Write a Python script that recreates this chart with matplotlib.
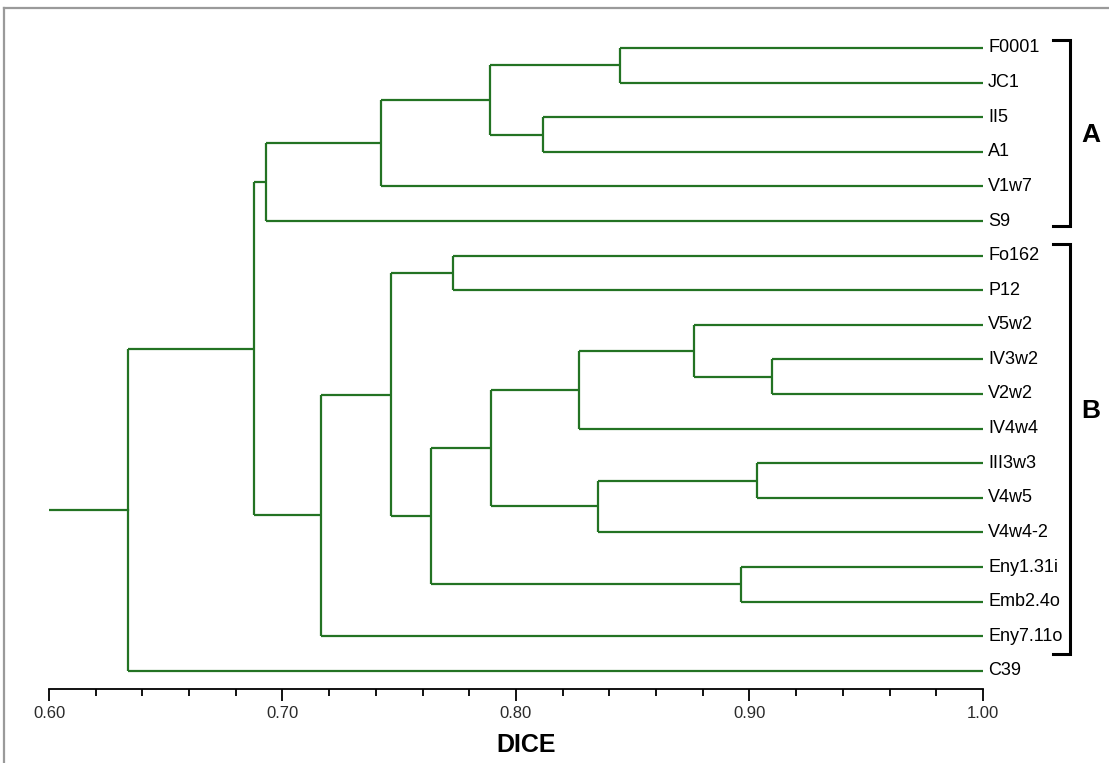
import matplotlib
matplotlib.use("Agg")
from matplotlib import pyplot as plt
from matplotlib.lines import Line2D
import numpy as np

plt.rcParams["font.family"] = ["Liberation Sans", "DejaVu Sans"]

# leaf order, top to bottom
leaves = ["F0001", "JC1", "II5", "A1", "V1w7", "S9", "Fo162", "P12", "V5w2",
          "IV3w2", "V2w2", "IV4w4", "III3w3", "V4w5", "V4w4-2", "Eny1.31i",
          "Emb2.4o", "Eny7.11o", "C39"]

# merges like a linkage table: node ids 0..18 are leaves, new nodes start at 19
merge_a = [0, 2, 19, 21, 22, 6, 9, 8, 26, 12, 28, 27, 15, 30, 24, 33, 23, 35]
merge_b = [1, 3, 20, 4, 5, 7, 10, 25, 11, 13, 14, 29, 16, 31, 32, 17, 34, 18]
merge_h = [0.8445, 0.8117, 0.7890, 0.7421, 0.6931, 0.7730, 0.9095, 0.8764,
           0.8270, 0.9031, 0.8351, 0.7891, 0.8965, 0.7634, 0.7465, 0.7166,
           0.6876, 0.6337]

groups = ["A", "B"]
group_span = [(-0.23, 5.14), (5.66, 17.5)]
group_label_row = [2.5, 10.5]

x_ticks = [0.60, 0.70, 0.80, 0.90, 1.00]

W, H = 1109, 763
fig = plt.figure(figsize=(W / 100, H / 100), dpi=100)

# axes placed in pixels: 0.60 at x=49, 1.00 at x=983, axis line at y=689
px_l, px_r, px_t, px_b = 49, 983, 30, 689
row0, step = 48, 34.6
ax = fig.add_axes([px_l / W, (H - px_b) / H, (px_r - px_l) / W, (px_b - px_t) / H])
ax.set_xlim(0.60, 1.00)
ax.set_ylim((px_b - row0) / step, (px_t - row0) / step)

green = "#237323"
n = len(leaves)
node_x = {i: 1.0 for i in range(n)}
node_y = {i: float(i) for i in range(n)}
for k, (a, b, h) in enumerate(zip(merge_a, merge_b, merge_h)):
    nid = n + k
    ya, yb = node_y[a], node_y[b]
    ax.plot([h, h], [ya, yb], color=green, lw=1.6, solid_capstyle="butt")
    ax.plot([h, node_x[a]], [ya, ya], color=green, lw=1.6, solid_capstyle="butt")
    ax.plot([h, node_x[b]], [yb, yb], color=green, lw=1.6, solid_capstyle="butt")
    node_x[nid] = h
    node_y[nid] = (ya + yb) / 2

root = n + len(merge_h) - 1
ax.plot([0.60, node_x[root]], [node_y[root]] * 2, color=green, lw=1.6)

for i, name in enumerate(leaves):
    ax.text(1.0 + 0.0022, i, name, fontsize=13, va="center", ha="left",
            color="black", clip_on=False)

# group brackets
for g, (top, bot), lr in zip(groups, group_span, group_label_row):
    ax.plot([1.030, 1.0373, 1.0373, 1.030], [top, top, bot, bot], color="black",
            lw=2.2, clip_on=False, solid_joinstyle="miter")
    ax.text(1.0463, lr, g, fontsize=19, fontweight="heavy", ha="center",
            va="center", clip_on=False)

for s in ["top", "right", "left"]:
    ax.spines[s].set_visible(False)
ax.spines["bottom"].set_linewidth(1.3)
ax.set_yticks([])
ax.set_xticks(x_ticks)
ax.set_xticklabels([f"{t:.2f}" for t in x_ticks])
ax.set_xticks(np.arange(0.60, 1.001, 0.02), minor=True)
ax.tick_params(axis="x", which="major", length=8.5, width=1.3, pad=4,
               labelsize=12, labelcolor="#2a2a2a")
ax.tick_params(axis="x", which="minor", length=5, width=1.3)
fig.text(526 / W, 1 - 745 / H, "DICE", fontsize=18, fontweight="bold",
         ha="center", va="center")

# grey frame of the original picture (left and top only)
fig.add_artist(Line2D([4 / W, 4 / W], [0, 1 - 8 / H], color="#9a9a9a", lw=1.6))
fig.add_artist(Line2D([4 / W, 1], [1 - 8 / H, 1 - 8 / H], color="#9a9a9a", lw=1.6))

fig.savefig("out.png", dpi=100)
